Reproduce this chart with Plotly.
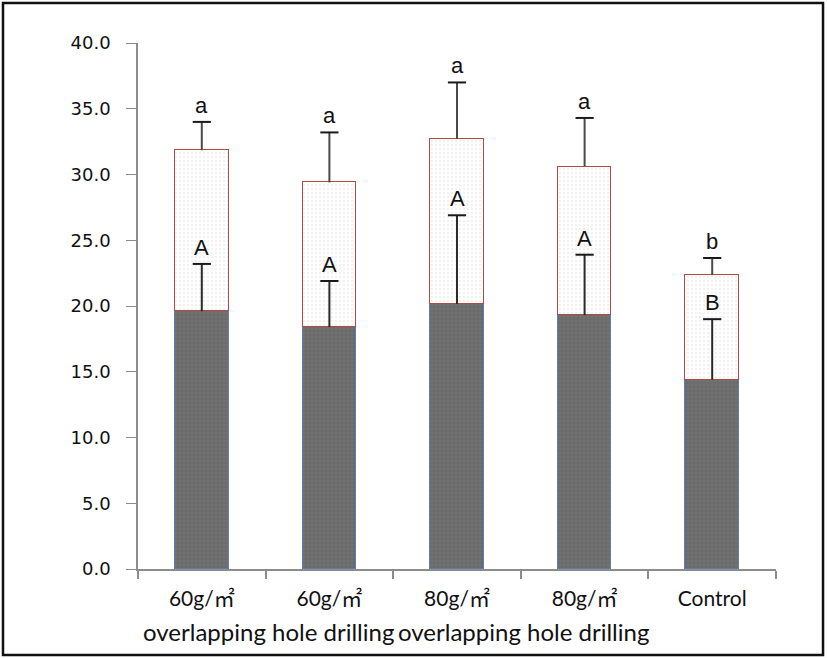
import plotly.graph_objects as go

categories = ["c1", "c2", "c3", "c4", "c5"]
tick_labels = ["60g/㎡", "60g/㎡", "80g/㎡", "80g/㎡", "Control"]
sub_labels = ["overlapping hole drilling", "overlapping hole drilling"]
sub_label_pos = [0.5, 2.5]

bottom_values = [19.6, 18.4, 20.15, 19.3, 14.4]
total_values = [31.85, 29.4, 32.7, 30.6, 22.35]
bottom_err = [3.6, 3.5, 6.75, 4.6, 4.6]
total_err = [2.15, 3.8, 4.3, 3.7, 1.3]
upper_letters = ["a", "a", "a", "a", "b"]
lower_letters = ["A", "A", "A", "A", "B"]

top_values = [t - b for t, b in zip(total_values, bottom_values)]
xi = list(range(len(categories)))
boundaries = [i - 0.5 for i in range(len(categories) + 1)]

fig = go.Figure()
fig.add_trace(go.Bar(
    x=xi, y=bottom_values, width=0.42,
    marker=dict(color="#6b6b6b", line=dict(color="#5a7fb0", width=1.2),
                pattern=dict(shape=".", fgcolor="#7a7a7a", bgcolor="#6b6b6b", size=4, solidity=0.3)),
    showlegend=False, hoverinfo="skip"))
fig.add_trace(go.Bar(
    x=xi, y=top_values, width=0.42,
    marker=dict(color="#ffffff", line=dict(color="#b04a44", width=1.5),
                pattern=dict(shape=".", fgcolor="#e2e2e2", bgcolor="#ffffff", size=4, solidity=0.3)),
    showlegend=False, hoverinfo="skip"))

# error bar stems (no caps) from the bar tops
for base, err, col in [(bottom_values, bottom_err, "#2b2b2b"), (total_values, total_err, "#4a4a4a")]:
    fig.add_trace(go.Scatter(
        x=xi, y=base, mode="markers", marker=dict(opacity=0, size=1),
        error_y=dict(type="data", array=err, arrayminus=[0]*5, symmetric=False,
                     color=col, thickness=2, width=0),
        showlegend=False, hoverinfo="skip"))
    # caps at the top ends
    fig.add_trace(go.Scatter(
        x=xi, y=[b + e for b, e in zip(base, err)], mode="markers",
        marker=dict(symbol="line-ew", size=13, line=dict(color="#1a1a1a", width=2)),
        showlegend=False, hoverinfo="skip"))

for i in xi:
    fig.add_annotation(x=i, y=total_values[i] + total_err[i], text=upper_letters[i],
                       showarrow=False, yanchor="bottom", yshift=2,
                       font=dict(family="Liberation Sans", size=22, color="#111"))
    fig.add_annotation(x=i, y=bottom_values[i] + bottom_err[i], text=lower_letters[i],
                       showarrow=False, yanchor="bottom", yshift=2,
                       font=dict(family="Liberation Sans", size=22, color="#111"))

for p, s in zip(sub_label_pos, sub_labels):
    fig.add_annotation(x=p, y=0, yref="y", text=s, showarrow=False, yanchor="middle",
                       xshift=3, yshift=-62, font=dict(family="Lato", size=24, color="#111"))

fig.add_shape(type="rect", xref="paper", yref="paper", x0=-0.2116, x1=1.0737, y0=-0.1635, y1=1.076,
              line=dict(color="#111", width=2.5))

fig.update_layout(
    width=827, height=658, barmode="stack",
    margin=dict(l=138, r=51, t=43, b=89),
    paper_bgcolor="white", plot_bgcolor="white",
    font=dict(family="DejaVu Sans", color="#111"),
    bargap=0,
)
fig.update_xaxes(
    type="linear", range=[-0.5, 4.5], tickmode="array", tickvals=xi, ticktext=tick_labels,
    showline=True, linecolor="#8c8c8c", linewidth=1.5, ticks="", showgrid=False, zeroline=False,
    tickfont=dict(family="Lato, 'Noto Sans CJK KR'", size=21, color="#111"),
    ticklabelstandoff=10,
    minor=dict(tickmode="array", tickvals=boundaries, ticks="outside", ticklen=8,
               tickcolor="#8c8c8c", tickwidth=1.5, showgrid=False),
)
fig.update_yaxes(
    range=[0, 40], dtick=5, tickformat=".1f", showline=True, linecolor="#8c8c8c", linewidth=1.5,
    ticks="outside", ticklen=10, tickcolor="#8c8c8c", showgrid=False, zeroline=False,
    ticklabelstandoff=12,
    tickfont=dict(family="DejaVu Sans", size=18, color="#111"),
)

fig.write_html("out.html", config={"displayModeBar": False},
               post_script="document.body.style.margin='0';document.body.style.padding='0';document.body.style.overflow='hidden';")
